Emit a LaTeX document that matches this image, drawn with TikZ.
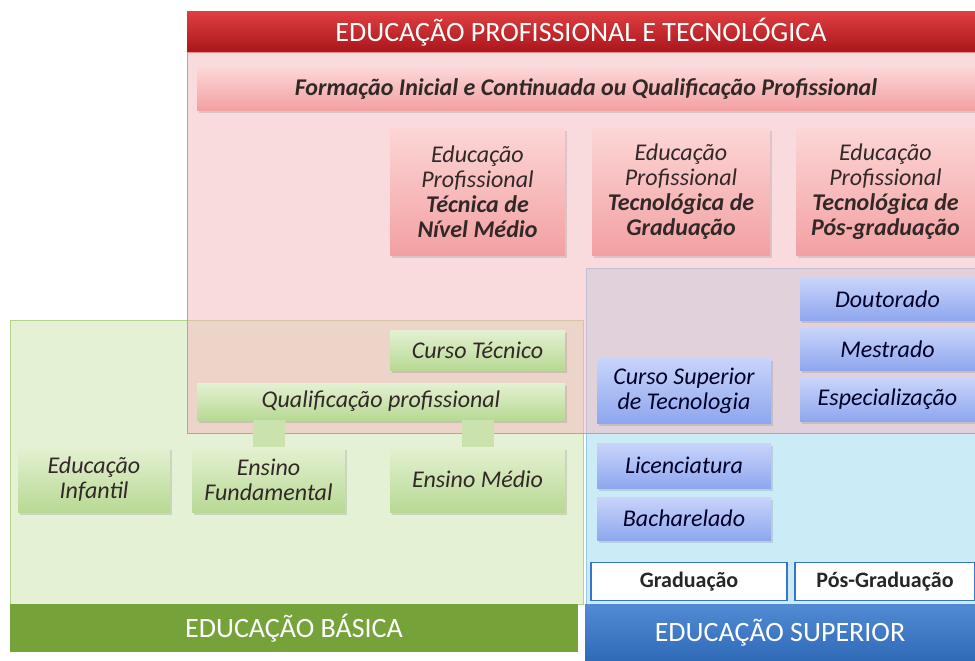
\documentclass[tikz,border=0pt]{standalone}
\usepackage{fontspec}
\setmainfont{Carlito}
\usetikzlibrary{shadows}

\definecolor{redtop}{RGB}{222,62,64}
\definecolor{redbot}{RGB}{170,22,28}
\definecolor{pinkarea}{RGB}{245,184,190}
\definecolor{pinkline}{RGB}{232,140,140}
\definecolor{pinktop}{RGB}{252,214,214}
\definecolor{pinkbot}{RGB}{243,160,162}
\definecolor{greenarea}{RGB}{228,241,213}
\definecolor{greenline}{RGB}{178,212,140}
\definecolor{greentop}{RGB}{228,241,210}
\definecolor{greenbot}{RGB}{184,217,148}
\definecolor{greenbar}{RGB}{118,162,58}
\definecolor{bluearea}{RGB}{203,236,247}
\definecolor{blueline}{RGB}{150,200,235}
\definecolor{bluetop}{RGB}{200,212,250}
\definecolor{bluebot}{RGB}{142,167,238}
\definecolor{bluebar}{RGB}{52,118,204}
\definecolor{textdark}{RGB}{50,40,40}

\tikzset{
    box/.style={rectangle,align=center,inner sep=2pt,text=textdark,
        font=\fontsize{24}{25}\selectfont\itshape,
        drop shadow={shadow xshift=2pt,shadow yshift=-3pt,opacity=0.25}},
    pinkbox/.style={box,top color=pinktop,bottom color=pinkbot},
    greenbox/.style={box,top color=greentop,bottom color=greenbot},
    bluebox/.style={box,top color=bluetop,bottom color=bluebot,text=black!85!blue},
    levelbox/.style={rectangle,draw=bluebar,line width=1.5pt,fill=white,
        font=\fontsize{22}{24}\selectfont\bfseries,text=black!85},
    bar/.style={rectangle,text=white,font=\fontsize{28}{30}\selectfont},
    stub/.style={line width=32pt,greenbot!60!greentop}
}

\begin{document}
\begin{tikzpicture}[x=1pt,y=-1pt]
    \useasboundingbox (0,0) rectangle (975,661);
    \fill[white] (0,0) rectangle (975,661);
    % areas
    \draw[greenline,fill=greenarea] (10,320) rectangle (583,604);
    \draw[blueline,fill=bluearea] (586,268) rectangle (975,604);
    \fill[pinkarea,opacity=0.5] (187,52) rectangle (975,433);
    \draw[pinkline] (187,52) rectangle (975,433);
    % educacao profissional
    \node[bar,minimum width=788pt,minimum height=40pt,top color=redtop,bottom color=redbot] (titulo) at (581,32) {EDUCAÇÃO PROFISSIONAL E TECNOLÓGICA};
    \node[pinkbox,minimum width=778pt,minimum height=42pt,font=\fontsize{24}{25}\selectfont\bfseries\itshape] (formacao) at (586,89) {Formação Inicial e Continuada ou Qualificação Profissional};
    \node[pinkbox,minimum width=175pt,minimum height=127pt] (tecnica) at (477.5,191.5) {Educação\\Profissional\\\textbf{Técnica de}\\\textbf{Nível Médio}};
    \node[pinkbox,minimum width=178pt,minimum height=127pt] (tecgrad) at (681,191.5) {Educação\\Profissional\\\textbf{Tecnológica de}\\\textbf{Graduação}};
    \node[pinkbox,minimum width=179pt,minimum height=127pt] (tecpos) at (885.5,191.5) {Educação\\Profissional\\\textbf{Tecnológica de}\\\textbf{Pós-graduação}};
    % educacao basica
    \node[greenbox,minimum width=152pt,minimum height=65pt] (infantil) at (94,479.5) {Educação\\Infantil};
    \node[greenbox,minimum width=153pt,minimum height=65pt] (fundamental) at (268.5,479.5) {Ensino\\Fundamental};
    \node[greenbox,minimum width=175pt,minimum height=65pt] (medio) at (477.5,479.5) {Ensino Médio};
    \node[greenbox,minimum width=368pt,minimum height=37pt] (qualif) at (381,401.5) {Qualificação profissional};
    \draw[stub] (fundamental.north) -- (fundamental.north |- qualif.south);
    \draw[stub] (medio.north) -- (medio.north |- qualif.south);
    \node[greenbox,minimum width=175pt,minimum height=40pt] (tecnico) at (477.5,350) {Curso Técnico};
    \node[bar,minimum width=568pt,minimum height=48pt,fill=greenbar] (basica) at (294,628) {EDUCAÇÃO BÁSICA};
    % educacao superior
    \node[bluebox,minimum width=174pt,minimum height=65pt] (cst) at (684,390.5) {Curso Superior\\de Tecnologia};
    \node[bluebox,minimum width=175pt,minimum height=42pt] (doutorado) at (887.5,299) {Doutorado};
    \node[bluebox,minimum width=175pt,minimum height=42pt] (mestrado) at (887.5,349) {Mestrado};
    \node[bluebox,minimum width=175pt,minimum height=43pt] (especial) at (887.5,399.5) {Especialização};
    \node[bluebox,minimum width=174pt,minimum height=45pt] (licenc) at (684,465.5) {Licenciatura};
    \node[bluebox,minimum width=174pt,minimum height=43pt] (bacharel) at (684,518.5) {Bacharelado};
    \node[levelbox,minimum width=196pt,minimum height=38pt] (graduacao) at (689,581.5) {Graduação};
    \node[levelbox,minimum width=180pt,minimum height=38pt] (posgrad) at (885,581.5) {Pós-Graduação};
    \node[bar,minimum width=390pt,minimum height=57pt,top color=bluebar!85!white,bottom color=bluebar!90!black] (superior) at (780,632.5) {EDUCAÇÃO SUPERIOR};
\end{tikzpicture}
\end{document}
